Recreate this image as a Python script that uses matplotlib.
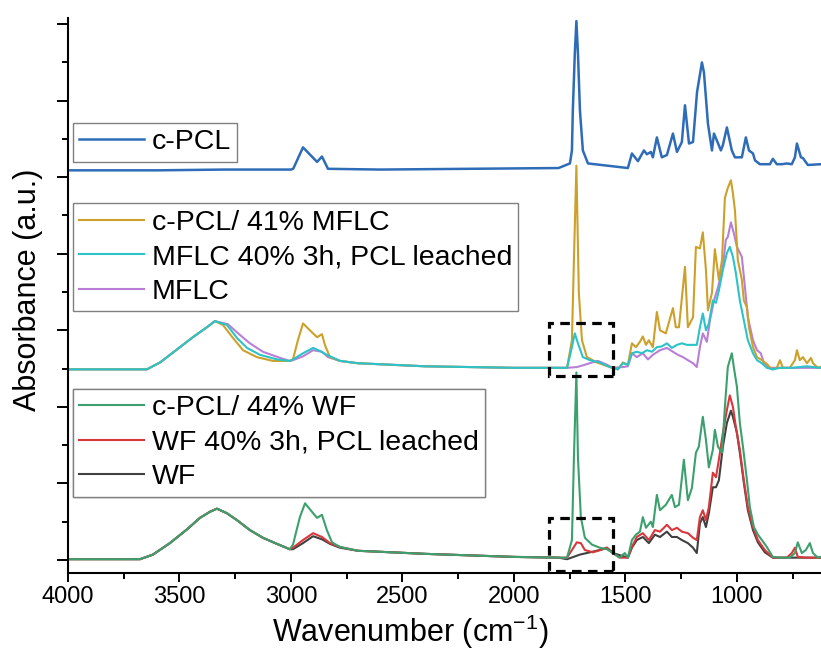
import numpy as np
import matplotlib
matplotlib.use("Agg")
import matplotlib.pyplot as plt
from matplotlib.patches import Rectangle

plt.rcParams["font.family"] = ["Liberation Sans", "DejaVu Sans"]
plt.rcParams["mathtext.fontset"] = "custom"
plt.rcParams["mathtext.rm"] = "Liberation Sans"
plt.rcParams["mathtext.it"] = "Liberation Sans:italic"

# ---------------------------------------------------------
# spectra (wavenumber cm-1, stacked absorbance a.u.)
# ---------------------------------------------------------

cpcl = [
    (4000, 5.09), (3600, 5.09), (3300, 5.10), (3000, 5.10), (2990, 5.11),
    (2946, 5.39), (2883, 5.20), (2861, 5.27), (2834, 5.11), (2600, 5.10),
    (2200, 5.11), (1800, 5.12), (1749, 5.18), (1740, 5.35), (1736, 5.87),
    (1727, 6.62), (1720, 7.04), (1713, 6.62), (1704, 5.87), (1691, 5.35),
    (1668, 5.18), (1489, 5.12), (1471, 5.31), (1444, 5.21), (1417, 5.35),
    (1404, 5.30), (1386, 5.33), (1377, 5.26), (1359, 5.52), (1337, 5.26),
    (1314, 5.29), (1287, 5.57), (1269, 5.33), (1247, 5.46), (1233, 5.94),
    (1215, 5.44), (1197, 5.46), (1179, 6.11), (1157, 6.50), (1148, 6.37),
    (1130, 5.70), (1112, 5.35), (1103, 5.57), (1090, 5.48), (1072, 5.35),
    (1063, 5.42), (1045, 5.65), (1023, 5.35), (1009, 5.26), (978, 5.26),
    (960, 5.52), (946, 5.35), (928, 5.31), (919, 5.22), (897, 5.17),
    (852, 5.17), (839, 5.24), (821, 5.17), (798, 5.17), (776, 5.18),
    (754, 5.17), (740, 5.26), (731, 5.44), (713, 5.26), (704, 5.25),
    (682, 5.16), (624, 5.17),
]

cpcl_mflc = [
    (4000, 2.49), (3646, 2.49), (3587, 2.58), (3511, 2.75), (3440, 2.91),
    (3377, 3.04), (3341, 3.12), (3305, 3.07), (3260, 2.90), (3215, 2.74),
    (3153, 2.65), (3081, 2.60), (3005, 2.60), (2991, 2.62), (2969, 2.87),
    (2946, 3.09), (2915, 3.00), (2883, 2.91), (2861, 2.95), (2848, 2.81),
    (2825, 2.65), (2780, 2.60), (2700, 2.57), (2400, 2.53), (2000, 2.51),
    (1800, 2.51), (1762, 2.51), (1740, 2.87), (1731, 3.92), (1720, 5.15),
    (1709, 3.49), (1695, 2.87), (1673, 2.65), (1628, 2.58), (1570, 2.52),
    (1534, 2.49), (1511, 2.58), (1489, 2.55), (1471, 2.83), (1453, 2.78),
    (1435, 2.85), (1422, 2.92), (1408, 2.81), (1395, 2.87), (1377, 2.78),
    (1359, 3.24), (1345, 3.00), (1319, 2.96), (1287, 3.29), (1274, 3.04),
    (1260, 3.04), (1233, 3.83), (1220, 3.04), (1197, 3.17), (1184, 4.09),
    (1166, 4.07), (1153, 4.28), (1139, 3.79), (1130, 3.26), (1112, 3.49),
    (1099, 4.06), (1081, 3.66), (1067, 3.92), (1054, 4.73), (1041, 4.86),
    (1027, 4.96), (1018, 4.79), (1009, 4.57), (996, 3.92), (978, 3.66),
    (969, 3.39), (955, 3.30), (946, 3.04), (928, 2.78), (910, 2.65),
    (888, 2.61), (866, 2.56), (843, 2.49), (821, 2.51), (807, 2.61),
    (794, 2.51), (763, 2.51), (740, 2.61), (731, 2.74), (718, 2.61),
    (704, 2.65), (686, 2.57), (668, 2.64), (659, 2.57), (637, 2.51),
    (624, 2.52),
]

mflc_leached = [
    (4000, 2.49), (3646, 2.49), (3587, 2.58), (3511, 2.75), (3440, 2.91),
    (3377, 3.04), (3341, 3.12), (3287, 3.07), (3242, 2.90), (3197, 2.77),
    (3139, 2.68), (3063, 2.62), (3005, 2.60), (2991, 2.62), (2946, 2.70),
    (2901, 2.77), (2870, 2.73), (2839, 2.68), (2780, 2.60), (2700, 2.57),
    (2400, 2.53), (2000, 2.51), (1800, 2.51), (1762, 2.51), (1740, 2.78),
    (1727, 2.96), (1713, 2.83), (1691, 2.65), (1659, 2.61), (1615, 2.58),
    (1570, 2.52), (1534, 2.49), (1511, 2.57), (1489, 2.55), (1471, 2.70),
    (1449, 2.72), (1426, 2.70), (1404, 2.74), (1381, 2.72), (1359, 2.78),
    (1337, 2.79), (1314, 2.83), (1292, 2.77), (1269, 2.81), (1247, 2.83),
    (1224, 2.81), (1202, 2.81), (1180, 2.81), (1166, 3.04), (1153, 3.22),
    (1139, 3.00), (1126, 3.09), (1108, 3.39), (1094, 3.36), (1081, 3.52),
    (1063, 3.79), (1045, 4.01), (1032, 4.09), (1018, 3.96), (1005, 3.75),
    (987, 3.39), (969, 3.13), (951, 2.87), (928, 2.70), (910, 2.61),
    (888, 2.57), (866, 2.51), (839, 2.49), (807, 2.51), (776, 2.51),
    (749, 2.51), (718, 2.52), (686, 2.53), (659, 2.52), (624, 2.51),
]

mflc = [
    (4000, 2.49), (3646, 2.49), (3587, 2.58), (3511, 2.75), (3440, 2.91),
    (3377, 3.04), (3341, 3.12), (3283, 3.08), (3229, 2.94), (3184, 2.83),
    (3126, 2.72), (3049, 2.64), (3005, 2.60), (2991, 2.61), (2946, 2.66),
    (2901, 2.74), (2861, 2.72), (2834, 2.65), (2780, 2.60), (2700, 2.57),
    (2400, 2.53), (2000, 2.51), (1800, 2.51), (1762, 2.51), (1718, 2.52),
    (1682, 2.55), (1650, 2.58), (1623, 2.60), (1583, 2.55), (1556, 2.51),
    (1511, 2.52), (1489, 2.53), (1471, 2.70), (1449, 2.65), (1422, 2.70),
    (1399, 2.62), (1377, 2.68), (1345, 2.74), (1314, 2.77), (1287, 2.72),
    (1265, 2.68), (1242, 2.65), (1220, 2.61), (1197, 2.57), (1180, 2.52),
    (1166, 2.78), (1153, 2.96), (1135, 2.85), (1121, 3.13), (1103, 3.39),
    (1085, 3.56), (1063, 3.83), (1050, 4.18), (1041, 4.22), (1027, 4.41),
    (1014, 4.27), (1000, 4.09), (978, 3.96), (964, 3.56), (951, 3.17),
    (928, 2.87), (910, 2.74), (893, 2.70), (879, 2.57), (852, 2.51),
    (824, 2.51), (624, 2.51),
]

cpcl_wf = [
    (4000, 0.01), (3677, 0.01), (3619, 0.07), (3543, 0.22), (3466, 0.40),
    (3408, 0.55), (3363, 0.63), (3332, 0.67), (3287, 0.61), (3242, 0.52),
    (3184, 0.39), (3126, 0.29), (3063, 0.21), (3005, 0.14), (2991, 0.20),
    (2960, 0.56), (2937, 0.74), (2906, 0.63), (2883, 0.55), (2861, 0.59),
    (2839, 0.39), (2816, 0.23), (2780, 0.17), (2700, 0.12), (2400, 0.08),
    (2000, 0.04), (1800, 0.03), (1762, 0.03), (1740, 0.26), (1731, 1.34),
    (1720, 2.45), (1713, 1.34), (1700, 0.56), (1682, 0.29), (1650, 0.20),
    (1615, 0.16), (1583, 0.14), (1556, 0.09), (1526, 0.03), (1503, 0.09),
    (1489, 0.03), (1471, 0.26), (1453, 0.33), (1435, 0.37), (1422, 0.56),
    (1408, 0.42), (1386, 0.50), (1377, 0.43), (1359, 0.85), (1345, 0.65),
    (1319, 0.72), (1292, 0.85), (1278, 0.69), (1260, 0.72), (1238, 1.31),
    (1220, 0.78), (1202, 0.94), (1184, 1.40), (1171, 1.48), (1153, 1.87),
    (1139, 1.57), (1126, 1.21), (1108, 1.44), (1099, 1.70), (1085, 1.48),
    (1067, 1.40), (1054, 2.00), (1041, 2.52), (1023, 2.70), (1014, 2.52),
    (1000, 2.26), (987, 1.79), (973, 1.48), (955, 1.04), (942, 0.69),
    (924, 0.43), (906, 0.33), (888, 0.26), (866, 0.17), (839, 0.04),
    (807, 0.03), (763, 0.03), (740, 0.09), (727, 0.23), (709, 0.09),
    (691, 0.13), (673, 0.22), (659, 0.09), (637, 0.03), (624, 0.04),
]

wf_leached = [
    (4000, 0.01), (3677, 0.01), (3619, 0.07), (3543, 0.22), (3466, 0.40),
    (3408, 0.55), (3363, 0.63), (3332, 0.67), (3287, 0.61), (3242, 0.52),
    (3184, 0.39), (3126, 0.29), (3063, 0.21), (3005, 0.14), (2991, 0.16),
    (2946, 0.26), (2901, 0.35), (2861, 0.30), (2825, 0.22), (2780, 0.17),
    (2700, 0.12), (2400, 0.08), (2000, 0.04), (1800, 0.03), (1762, 0.03),
    (1740, 0.13), (1718, 0.23), (1700, 0.22), (1682, 0.13), (1646, 0.10),
    (1601, 0.14), (1583, 0.16), (1556, 0.09), (1526, 0.03), (1489, 0.03),
    (1471, 0.17), (1449, 0.30), (1422, 0.35), (1395, 0.26), (1368, 0.39),
    (1345, 0.37), (1314, 0.46), (1292, 0.39), (1269, 0.42), (1247, 0.37),
    (1220, 0.35), (1197, 0.29), (1180, 0.26), (1166, 0.56), (1153, 0.65),
    (1139, 0.52), (1126, 0.69), (1108, 1.14), (1094, 1.08), (1081, 1.31),
    (1063, 1.66), (1045, 1.96), (1032, 2.15), (1018, 2.00), (1005, 1.74),
    (987, 1.44), (969, 1.04), (951, 0.69), (928, 0.43), (906, 0.26),
    (875, 0.13), (839, 0.03), (776, 0.03), (754, 0.09), (740, 0.16),
    (727, 0.04), (686, 0.03), (624, 0.03),
]

wf = [
    (4000, 0.01), (3677, 0.01), (3619, 0.07), (3543, 0.22), (3466, 0.40),
    (3408, 0.55), (3363, 0.63), (3332, 0.67), (3287, 0.61), (3242, 0.52),
    (3184, 0.39), (3126, 0.29), (3063, 0.21), (3005, 0.14), (2991, 0.14),
    (2946, 0.22), (2901, 0.31), (2861, 0.27), (2825, 0.21), (2780, 0.16),
    (2700, 0.12), (2400, 0.08), (2000, 0.04), (1800, 0.03), (1762, 0.01),
    (1704, 0.07), (1659, 0.10), (1615, 0.13), (1583, 0.16), (1556, 0.09),
    (1489, 0.03), (1471, 0.16), (1449, 0.26), (1422, 0.30), (1395, 0.22),
    (1368, 0.33), (1345, 0.30), (1314, 0.37), (1292, 0.30), (1269, 0.30),
    (1247, 0.26), (1220, 0.22), (1197, 0.16), (1180, 0.09), (1166, 0.48),
    (1153, 0.56), (1139, 0.43), (1126, 0.61), (1108, 0.95), (1094, 0.95),
    (1081, 1.04), (1063, 1.48), (1045, 1.79), (1027, 1.95), (1018, 1.87),
    (1000, 1.66), (987, 1.40), (969, 1.01), (951, 0.65), (928, 0.39),
    (906, 0.23), (875, 0.10), (839, 0.03), (624, 0.03),
]

# highlighted carbonyl windows: (wn_high, wn_low, abs_low, abs_high)
zoom_boxes = [(1843, 1556, 2.40, 3.09), (1843, 1556, -0.14, 0.55)]

# =========================================================
# FIGURE
# =========================================================

fig = plt.figure(figsize=(8.21, 6.57), dpi=100)
ax = fig.add_axes([0.0828, 0.1279, 0.9172, 0.8447])


def draw(series, color, label, lw=1.5):
    wn, ab = np.array(series).T
    line, = ax.plot(wn, ab, color=color, linewidth=lw, label=label,
                    solid_joinstyle="round")
    return line


l_cpcl = draw(cpcl, "#2E6CB8", "c-PCL", lw=1.8)
l_mflc = draw(mflc, "#B97FD6", "MFLC")
l_cpcl_mflc = draw(cpcl_mflc, "#CDA02A", "c-PCL/ 41% MFLC")
l_mflc_l = draw(mflc_leached, "#2CC3C8", "MFLC 40% 3h, PCL leached")
l_wf = draw(wf, "#404040", "WF")
l_wf_l = draw(wf_leached, "#D8383C", "WF 40% 3h, PCL leached")
l_cpcl_wf = draw(cpcl_wf, "#3CA06E", "c-PCL/ 44% WF")

for w_hi, w_lo, a_lo, a_hi in zoom_boxes:
    ax.add_patch(Rectangle((w_lo, a_lo), w_hi - w_lo, a_hi - a_lo, fill=False,
                           edgecolor="black", linewidth=2.3,
                           linestyle=(0, (3, 2)), zorder=5))

ax.set_xlim(4000, 623)
ax.set_ylim(-0.17, 7.08)
ax.set_xticks(np.arange(4000, 999, -500))
ax.set_xticks(np.arange(3750, 600, -250), minor=True)
ax.set_yticks(np.arange(0, 7.1, 1))
ax.set_yticks(np.arange(0.5, 7.1, 1), minor=True)
ax.tick_params(labelleft=False)
ax.tick_params(axis="both", which="both", direction="out", width=1.4)
ax.tick_params(axis="y", which="major", length=8)
ax.tick_params(axis="y", which="minor", length=4)
ax.tick_params(axis="x", which="major", length=6.5, labelsize=17, pad=3)
ax.tick_params(axis="x", which="minor", length=4)
for side in ("top", "right"):
    ax.spines[side].set_visible(False)
for side in ("left", "bottom"):
    ax.spines[side].set_linewidth(1.5)

ax.set_xlabel("Wavenumber (cm$^{-1}$)", fontsize=22)
ax.set_ylabel("Absorbance (a.u.)", fontsize=22)
ax.xaxis.set_label_coords(0.455, -0.072)
ax.yaxis.set_label_coords(-0.033, 0.51)

legend_style = dict(loc="upper left", borderaxespad=0, fontsize=20.5,
                    frameon=True, fancybox=False, edgecolor="#808080",
                    framealpha=1, borderpad=0.22, labelspacing=0.3,
                    handlelength=2.3, handletextpad=0.25)

groups = [
    ([l_cpcl], 0.8108),
    ([l_cpcl_mflc, l_mflc_l, l_mflc], 0.6658),
    ([l_cpcl_wf, l_wf_l, l_wf], 0.3315),
]
for handles, top in groups:
    leg = ax.legend(handles=handles, bbox_to_anchor=(0.0062, top), **legend_style)
    leg.get_frame().set_linewidth(1.0)
    ax.add_artist(leg)

fig.savefig("out.png", dpi=100)
